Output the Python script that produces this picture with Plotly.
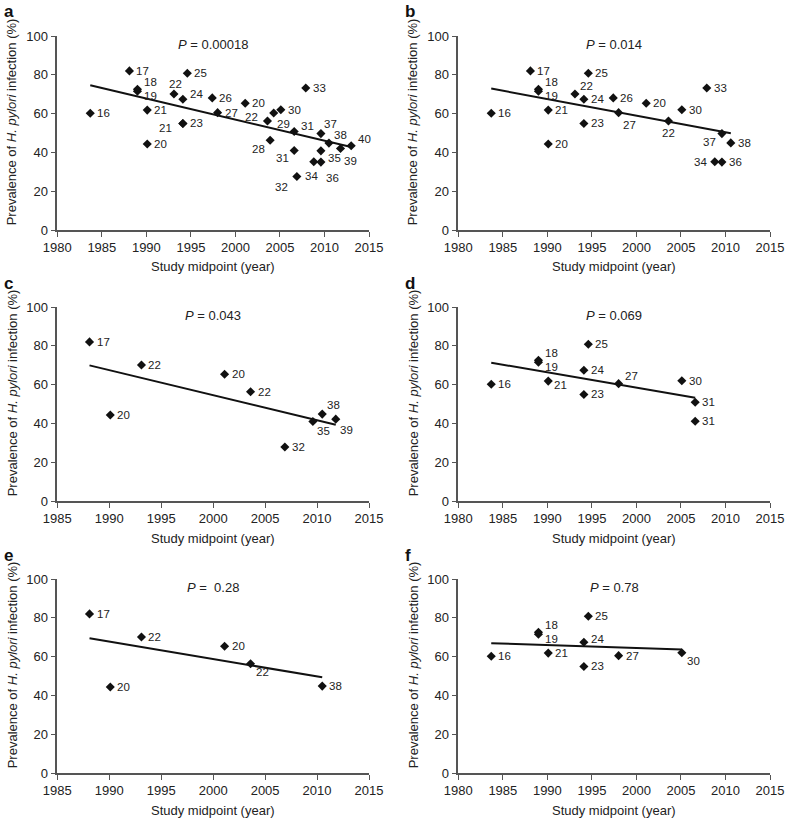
import plotly.graph_objects as go

W, H = 785, 818
FONT = "Liberation Sans, Arial, sans-serif"
INK = "#222222"
AXIS = "#555555"

# ---- data ----
# panel a: all studies
a_refs = ["16", "17", "18", "19", "21", "20", "22", "24", "23", "21", "25", "26", "27", "20", "22",
          "28", "29", "30", "31", "31", "32", "33", "34", "36", "35", "37", "38", "39", "40"]
a_year = [1983.7, 1988.1, 1989.0, 1989.0, 1990.1, 1990.1, 1993.1, 1994.1, 1994.1, 1994.1, 1994.6,
          1997.4, 1998.0, 2001.1, 2003.6, 2003.9, 2004.3, 2005.1, 2006.6, 2006.6, 2006.9, 2007.9,
          2008.8, 2009.6, 2009.6, 2009.6, 2010.5, 2011.8, 2013.0]
a_prev = [60.2, 82.0, 72.5, 71.5, 61.8, 44.3, 70.1, 67.4, 54.9, 54.9, 80.8, 68.1, 60.5, 65.3, 56.2,
          46.3, 60.3, 62.0, 50.8, 41.0, 27.6, 73.2, 35.2, 35.0, 40.8, 49.7, 44.8, 42.0, 43.4]
a_fit_x = [1983.7, 2013.0]
a_fit_y = [74.6, 42.8]

# panel b
b_refs = ["16", "17", "18", "19", "21", "20", "22", "24", "23", "25", "26", "27", "20", "22",
          "30", "33", "37", "38", "34", "36"]
b_year = [1983.7, 1988.1, 1989.0, 1989.0, 1990.1, 1990.1, 1993.1, 1994.1, 1994.1, 1994.6, 1997.4,
          1998.0, 2001.1, 2003.6, 2005.1, 2007.9, 2009.6, 2010.6, 2008.8, 2009.6]
b_prev = [60.2, 82.0, 72.5, 71.5, 61.8, 44.3, 70.1, 67.4, 54.9, 80.8, 68.1, 60.5, 65.3, 56.2,
          62.0, 73.2, 49.7, 44.9, 35.2, 35.0]
b_fit_x = [1983.7, 2010.6]
b_fit_y = [72.9, 49.9]

# panel c
c_refs = ["17", "22", "20", "22", "20", "38", "39", "35", "32"]
c_year = [1988.1, 1993.1, 2001.1, 2003.6, 1990.1, 2010.5, 2011.8, 2009.6, 2006.9]
c_prev = [82.0, 70.1, 65.3, 56.3, 44.3, 44.8, 42.2, 41.0, 27.8]
c_fit_x = [1988.1, 2011.8]
c_fit_y = [69.9, 39.3]

# panel d
d_refs = ["16", "18", "19", "21", "25", "24", "23", "27", "30", "31", "31"]
d_year = [1983.7, 1989.0, 1989.0, 1990.1, 1994.6, 1994.1, 1994.1, 1998.0, 2005.1, 2006.6, 2006.6]
d_prev = [60.2, 72.5, 71.5, 61.8, 80.8, 67.4, 54.9, 60.5, 62.0, 50.9, 41.1]
d_fit_x = [1983.7, 2006.6]
d_fit_y = [71.3, 53.2]

# panel e
e_refs = ["17", "22", "20", "22", "20", "38"]
e_year = [1988.1, 1993.1, 2001.1, 2003.6, 1990.1, 2010.5]
e_prev = [82.0, 70.1, 65.3, 56.3, 44.3, 44.8]
e_fit_x = [1988.1, 2010.5]
e_fit_y = [69.5, 49.3]

# panel f
f_refs = ["16", "18", "19", "21", "25", "24", "23", "27", "30"]
f_year = [1983.7, 1989.0, 1989.0, 1990.1, 1994.6, 1994.1, 1994.1, 1998.0, 2005.1]
f_prev = [60.2, 72.5, 71.5, 61.8, 80.8, 67.4, 54.9, 60.5, 62.0]
f_fit_x = [1983.7, 2005.1]
f_fit_y = [66.9, 63.6]

p_values = ["0.00018", "0.014", "0.043", "0.069", "\u00a00.28", "0.78"]
panel_letters = ["a", "b", "c", "d", "e", "f"]

# label placement next to each marker: (anchor side, x shift px, y shift px)
R = ("left", 6, 0)
UP18 = ("left", 6, 7)
DN19 = ("left", 6, -5)
a_pos = [R, R, UP18, DN19, R, R, ("center", 2, 10), ("left", 6, 5), R,
         ("right", -10, -5), R, R, R, R, ("right", -8, 4), ("right", -4, -9), ("left", 2, -11),
         R, ("left", 6, 5), ("right", -4, -8), ("right", -8, -11), R, ("center", -2, -14),
         ("left", 4, -16), ("left", 6, -7), ("left", 2, 10), ("left", 4, 8), ("left", 2, -12),
         ("left", 6, 7)]
b_pos = [R, R, UP18, DN19, R, R, ("left", 4, 8), R, R, R, R,
         ("left", 3, -12), R, ("center", 0, -12), R, R, ("right", -5, -8), R, ("right", -7, 0), R]
c_pos = [R, R, R, R, R, ("left", 4, 9), ("left", 3, -11), ("left", 3, -10), R]
d_pos = [R, UP18, DN19, ("left", 5, -4), R, R, R, ("left", 5, 8), R, R, R]
e_pos = [R, R, R, ("left", 4, -8), R, R]
f_pos = [R, UP18, DN19, R, R, ("left", 6, 3), R, R, ("left", 4, -8)]


def px_x(p):
    return p / W


def px_y(p):
    return 1 - p / H


# pixel boxes of the six plot areas
cols = [(57.3, 369.0), (458.3, 770.0)]
rows = [(36.0, 230.0), (307.0, 501.0), (579.0, 773.0)]

panels = [
    (a_refs, a_year, a_prev, a_pos, a_fit_x, a_fit_y, [1980, 2015]),
    (b_refs, b_year, b_prev, b_pos, b_fit_x, b_fit_y, [1980, 2015]),
    (c_refs, c_year, c_prev, c_pos, c_fit_x, c_fit_y, [1985, 2015]),
    (d_refs, d_year, d_prev, d_pos, d_fit_x, d_fit_y, [1980, 2015]),
    (e_refs, e_year, e_prev, e_pos, e_fit_x, e_fit_y, [1985, 2015]),
    (f_refs, f_year, f_prev, f_pos, f_fit_x, f_fit_y, [1980, 2015]),
]

fig = go.Figure()
annotations = []
layout_axes = {}


def note(text, x, y, size=13, angle=0, xanchor="center", color=INK):
    return dict(text=text, x=px_x(x), y=px_y(y), xref="paper", yref="paper",
                xanchor=xanchor, yanchor="middle", showarrow=False, textangle=angle,
                font=dict(family=FONT, size=size, color=color))


for i, (refs, year, prev, pos, fx, fy, xr) in enumerate(panels):
    n = i + 1
    col = cols[i % 2]
    row = rows[i // 2]
    xa = "x" if n == 1 else "x%d" % n
    ya = "y" if n == 1 else "y%d" % n

    fig.add_trace(go.Scatter(x=fx, y=fy, mode="lines", xaxis=xa, yaxis=ya,
                             line=dict(color="#111111", width=2), showlegend=False,
                             hoverinfo="skip"))
    fig.add_trace(go.Scatter(x=year, y=prev, mode="markers", xaxis=xa, yaxis=ya,
                             marker=dict(symbol="diamond", size=7, color="#111111"),
                             showlegend=False, cliponaxis=False))

    # study numbers
    for ref, xv, yv, (side, dx, dy) in zip(refs, year, prev, pos):
        annotations.append(dict(text=ref, x=xv, y=yv, xref=xa, yref=ya, showarrow=False,
                                xanchor=side, yanchor="middle", xshift=dx, yshift=dy,
                                borderpad=0, font=dict(family=FONT, size=11.5, color=INK)))

    axis_common = dict(showline=True, linecolor=AXIS, linewidth=1.5, ticks="outside",
                       ticklen=5, tickwidth=1.2, tickcolor=AXIS, showgrid=False,
                       zeroline=False, ticklabeloverflow="allow",
                       tickfont=dict(family=FONT, size=13, color=INK))
    layout_axes["xaxis" if n == 1 else "xaxis%d" % n] = dict(
        axis_common, domain=[px_x(col[0]), px_x(col[1])], range=xr, dtick=5,
        tick0=1980, anchor=ya)
    layout_axes["yaxis" if n == 1 else "yaxis%d" % n] = dict(
        axis_common, domain=[px_y(row[1]), px_y(row[0])], range=[0, 100], dtick=20,
        anchor=xa)

    xc = (col[0] + col[1]) / 2
    annotations.append(note("<i>P</i> = " + p_values[i], xc, row[0] + 8))
    annotations.append(note("Study midpoint (year)", xc, row[1] + 37))
    annotations.append(note("Prevalence of <i>H. pylori</i> infection (%)", col[0] - 45,
                            (row[0] + row[1]) / 2 - 11, angle=-90))
    annotations.append(note("<b>%s</b>" % panel_letters[i], col[0] - 55, row[0] - 24,
                            size=17, xanchor="left", color="#111111"))

fig.update_layout(
    width=W, height=H,
    template="none",
    margin=dict(l=0, r=0, t=0, b=0),
    paper_bgcolor="white", plot_bgcolor="white",
    annotations=annotations,
    **layout_axes
)

# drop the page's default body margin so the figure fills the window exactly
fig.write_html("out.html", config={"displayModeBar": False},
               post_script="document.body.style.margin='0';")
